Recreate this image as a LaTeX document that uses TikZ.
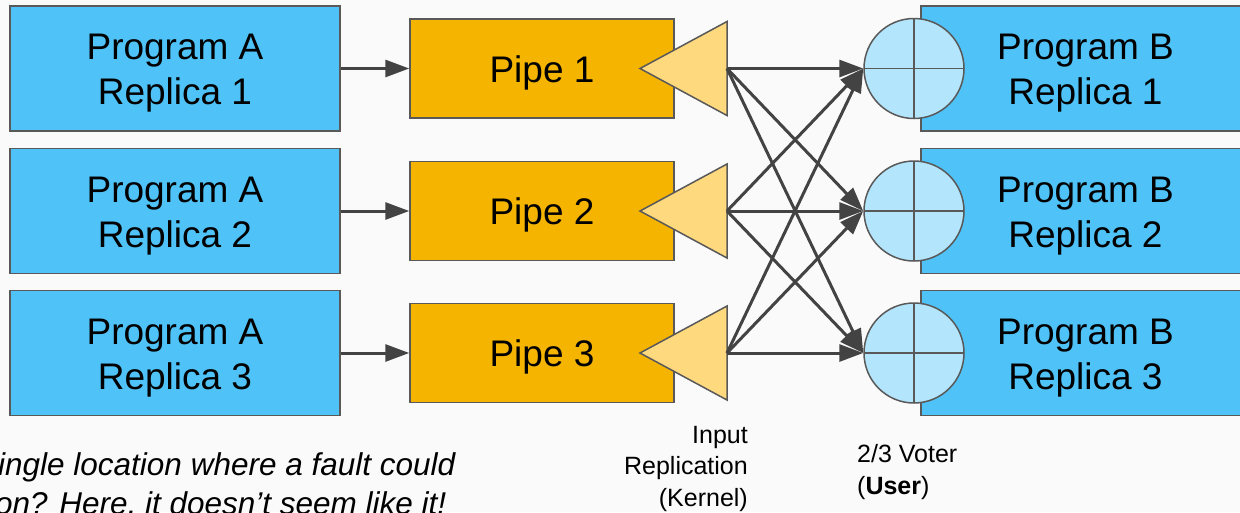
\documentclass[tikz,border=0pt]{standalone}
\usepackage{fontspec}
\setmainfont{Liberation Sans}
\usetikzlibrary{arrows.meta}
\definecolor{bg}{HTML}{FAFAFA}
\definecolor{progblue}{HTML}{4FC3F7}
\definecolor{pipeyellow}{HTML}{F4B400}
\definecolor{splitter}{HTML}{FFD97D}
\definecolor{voterblue}{HTML}{B3E5FC}
\definecolor{ink}{HTML}{434343}
\definecolor{outline}{HTML}{595959}
\begin{document}
\begin{tikzpicture}[x=1pt,y=-1pt,
  boxtext/.style={inner sep=0pt, align=center, font=\fontsize{37}{45}\selectfont},
  prog/.style={draw=outline, line width=1.5pt, fill=progblue, inner sep=0pt,
    minimum width=330pt, minimum height=125pt,
    label={[boxtext, yshift=-5pt]center:#1}},
  pipebox/.style={draw=outline, line width=1.5pt, fill=pipeyellow, inner sep=0pt,
    minimum width=264pt, minimum height=99pt,
    label={[boxtext, yshift=-4pt]center:#1}},
  splitshape/.style={draw=outline, line width=1.5pt, fill=splitter, line join=miter},
  voter/.style={circle, draw=outline, line width=1.5pt, fill=voterblue, inner sep=0pt,
    minimum size=100pt,
    path picture={\draw[outline, line width=1.5pt]
      (path picture bounding box.north) -- (path picture bounding box.south)
      (path picture bounding box.west) -- (path picture bounding box.east);}},
  flow/.style={draw=ink, line width=3pt, -{Triangle[length=24pt,width=17pt]}},
  lab/.style={inner sep=0pt, font=\fontsize{25}{31.5}\selectfont},
  note/.style={inner sep=0pt, font=\fontsize{31.5}{32}\selectfont\itshape}]

\fill[bg] (0,0) rectangle (1240,512);
\useasboundingbox (0,0) rectangle (1240,512);
\clip (0,0) rectangle (1240,512);

% sender replicas and their pipes
\foreach \i/\y in {1/68.5, 2/211, 3/353} {
  \node[prog={Program A\\Replica \i}] (A\i) at (175,\y) {};
  \node[pipebox={Pipe \i}] (P\i) at (542,\y) {};
  \draw[flow] (A\i.east) -- (P\i.west);
  % kernel input replication
  \draw[splitshape] (640,\y) -- (727,\y-47) -- (727,\y+47) -- cycle;
  \coordinate (T\i) at (727,\y);
}

% receiver replicas with their voters
\foreach \i/\y in {1/68.5, 2/211, 3/353} {
  \node[prog={Program B\\Replica \i}, minimum width=329pt] (B\i) at (1085.5,\y) {};
  \node[voter] (V\i) at (914,\y) {};
}

% every replicated input reaches every voter
\foreach \i in {1,2,3} {
  \foreach \j in {1,2,3} {
    \draw[flow] (T\i) -- (V\j.west);
  }
}

\node[lab, anchor=base east, align=right] (inrep) at (748,506)
  {Input\\Replication\\(Kernel)};
\node[lab, anchor=base west, align=left] (vote) at (857,494)
  {2/3 Voter\\(\textbf{User})};

\node[note, anchor=base west] (q1) at (-2,475) {ingle location where a fault could};
\node[note, anchor=base west] (q2) at (-5,514) {on? Here, it doesn’t seem like it!};
\end{tikzpicture}
\end{document}
